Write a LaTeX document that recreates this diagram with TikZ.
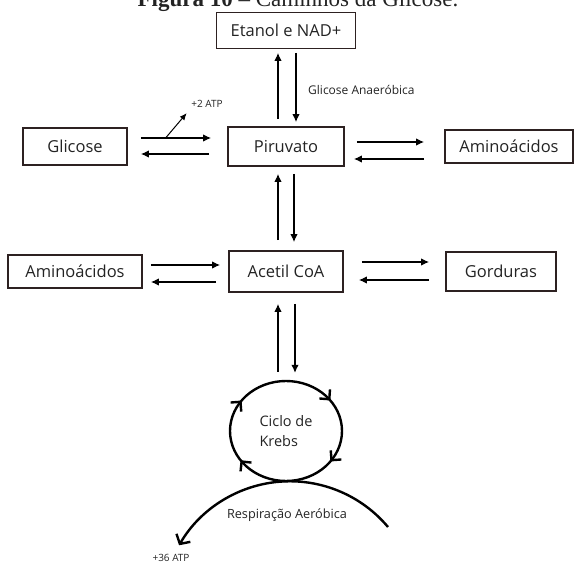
\documentclass[tikz,border=0pt]{standalone}
\usepackage{fontspec}
\setmainfont{Open Sans}
\newfontfamily\fonttitulo{Liberation Serif}
\usetikzlibrary{arrows.meta,shapes.geometric,decorations.markings}

\definecolor{borda}{RGB}{45,33,33}
\definecolor{texto}{RGB}{35,35,35}

\begin{document}
\begin{tikzpicture}[x=1pt,y=-1pt,
  caixa/.style = {draw=borda, line width=1.8pt, rectangle, minimum height=37pt, inner sep=0pt, text=texto, font=\fontsize{16.5}{19}\selectfont},
  seta/.style = {-{Latex[length=8pt,width=7.5pt]}, line width=1.2pt},
  rotulo/.style = {text=texto, inner sep=0pt},
  ciclo/.style = {line width=2.4pt, postaction=decorate, decoration={markings,
      mark=at position 0.1 with {\arrow{Straight Barb[length=7pt,width=14pt]}},
      mark=at position 0.405 with {\arrow{Straight Barb[length=7pt,width=14pt]}},
      mark=at position 0.6 with {\arrow{Straight Barb[length=7pt,width=14pt]}},
      mark=at position 0.9 with {\arrow{Straight Barb[length=7pt,width=14pt]}}}},
  node distance={125pt}]
        \useasboundingbox (0,0) rectangle (574,564);
        \clip (0,0) rectangle (574,564);
        \node[rotulo, anchor=base] (titulo) at (298,7) {\fonttitulo\fontsize{23}{27}\selectfont\textbf{Figura 10} – Caminhos da Glicose.};
        \node[caixa, minimum width=116pt, minimum height=39pt] (piru) at (286,146.5) {Piruvato};
        \node[caixa, minimum width=139pt, minimum height=36pt] (etanol) [node distance=116pt, above of=piru] {Etanol e NAD+};
        \node[caixa, minimum width=104pt] (gli) [node distance=211pt, left of=piru] {Glicose};
        \node[caixa, minimum width=128pt, minimum height=33pt] (aminod) [node distance=223pt, right of=piru] {Aminoácidos};
        \node[caixa, minimum width=114pt, minimum height=41pt] (acetil) [below of=piru] {Acetil CoA};
        \node[caixa, minimum width=134pt, minimum height=33pt] (aminoe) [node distance=211pt, left of=acetil] {Aminoácidos};
        \node[caixa, minimum width=110pt, minimum height=39pt] (gord) [node distance=215pt, right of=acetil] {Gorduras};
        \node[ellipse, minimum width=112pt, minimum height=100pt, inner sep=0pt, align=left, text=texto, font=\fontsize{14.5}{20}\selectfont] (krebs) [node distance=159.5pt, below of=acetil] {Ciclo de\\Krebs};
        \draw[ciclo] (krebs.center) ellipse [x radius=56, y radius=50];
        % glicose e piruvato
        \draw[seta, shorten <=13pt, shorten >=16pt] ([yshift=8.5pt]gli.east) -- coordinate[pos=0.38] (atpsai) ([yshift=8.5pt]piru.west);
        \draw[seta, shorten <=18pt, shorten >=13pt] ([yshift=-7.5pt]piru.west) -- ([yshift=-7.5pt]gli.east);
        \node[rotulo, font=\fontsize{10}{12}\selectfont] (atp2) at (207,104) {+2 ATP};
        \draw[seta, -{Latex[length=7pt,width=6pt]}, line width=1pt, shorten >=7pt] (atpsai) -- (atp2.south west);
        % piruvato e aminoacidos
        \draw[seta, shorten <=12pt, shorten >=20pt] ([yshift=4.5pt]piru.east) -- ([yshift=4.5pt]aminod.west);
        \draw[seta, shorten <=20pt, shorten >=9pt] ([yshift=-12.5pt]aminod.west) -- ([yshift=-12.5pt]piru.east);
        % etanol
        \draw[seta, shorten <=7pt, shorten >=3.5pt] ([xshift=-8pt]piru.north) -- ([xshift=-8pt]etanol.south);
        \draw[seta, shorten <=3.5pt, shorten >=4pt] ([xshift=10pt]etanol.south) -- ([xshift=10pt]piru.north);
        \node[rotulo, anchor=west, font=\fontsize{12}{14}\selectfont] (anaer) at (308,90) {Glicose Anaeróbica};
        % piruvato e acetil
        \draw[seta, shorten <=10pt, shorten >=7pt] ([xshift=-8pt]acetil.north) -- ([xshift=-8pt]piru.south);
        \draw[seta, shorten <=7pt, shorten >=8pt] ([xshift=8pt]piru.south) -- ([xshift=8pt]acetil.north);
        % acetil e vizinhos
        \draw[seta, shorten <=8pt, shorten >=8pt] ([yshift=6.5pt]aminoe.east) -- ([yshift=6.5pt]acetil.west);
        \draw[seta, shorten <=12pt, shorten >=8pt] ([yshift=-10.5pt]acetil.west) -- ([yshift=-10.5pt]aminoe.east);
        \draw[seta, shorten <=18pt, shorten >=16pt] ([yshift=9.5pt]acetil.east) -- ([yshift=9.5pt]gord.west);
        \draw[seta, shorten <=16pt, shorten >=15pt] ([yshift=-8.5pt]gord.west) -- ([yshift=-8.5pt]acetil.east);
        \draw[seta, shorten <=9pt, shorten >=11pt] ([xshift=-8pt]krebs.north) -- ([xshift=-8pt]acetil.south);
        \draw[seta, shorten <=11pt, shorten >=8pt] ([xshift=9pt]acetil.south) -- ([xshift=9pt]krebs.north);
        % respiracao
        \coordinate (respini) at (388,527);
        \draw[line width=2.4pt, -{Straight Barb[length=7pt,width=16pt]}] (respini) arc[start angle=-40, end angle=-150, radius=128];
        \node[rotulo, font=\fontsize{12.7}{15}\selectfont] (resp) at (287,515) {Respiração Aeróbica};
        \node[rotulo, font=\fontsize{10}{12}\selectfont] (atp36) at (171,558) {+36 ATP};
\end{tikzpicture}
\end{document}
